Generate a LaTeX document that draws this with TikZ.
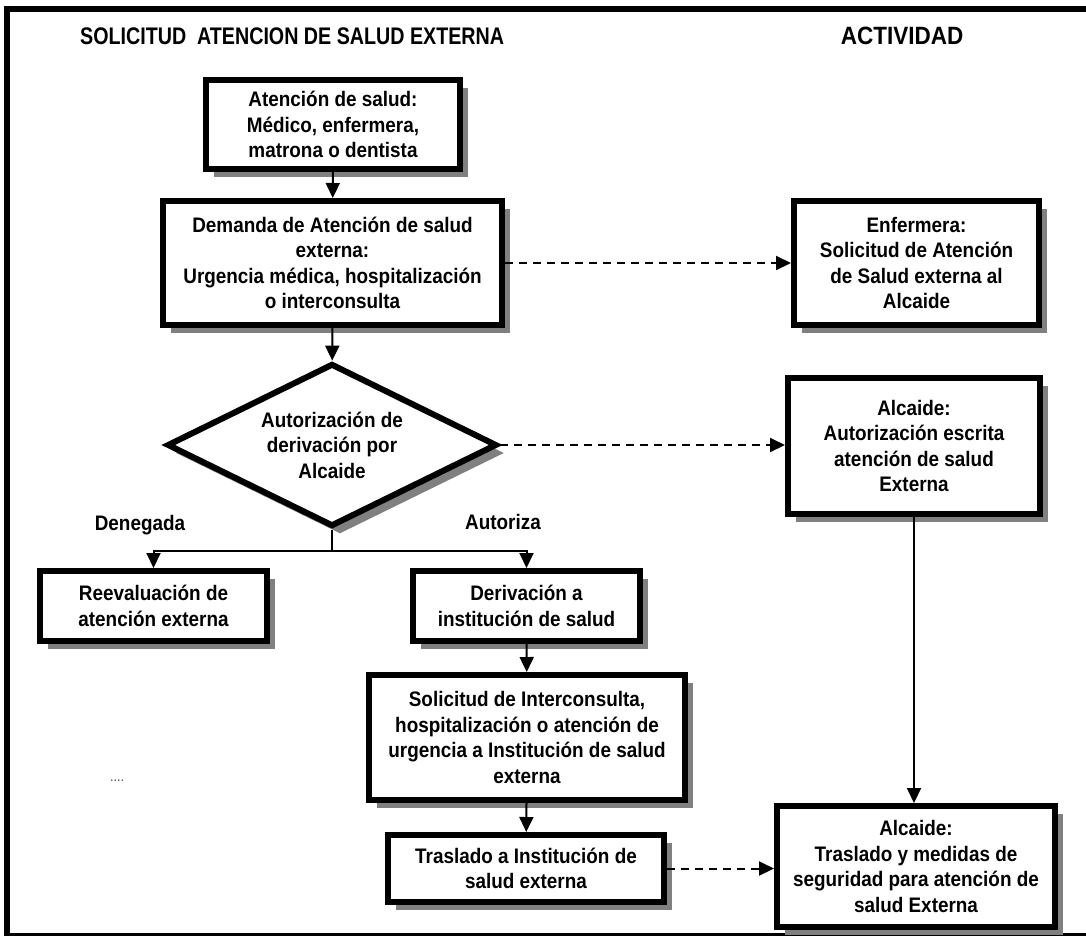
\documentclass[tikz,border=0pt]{standalone}
\usepackage{fontspec}
\setmainfont{Liberation Sans}[FakeStretch=0.9]
\newfontfamily\narrowFamily{Liberation Sans}[FakeStretch=0.82]
\usetikzlibrary{shapes.geometric,arrows.meta,shadows}
\definecolor{flowShadow}{gray}{0.5}
\newcommand{\flowFont}{\bfseries\fontsize{21}{25.5}\selectfont}
\newcommand{\headFont}{\narrowFamily\bfseries\fontsize{24}{28}\selectfont}

\begin{document}
\begin{tikzpicture}[x=1pt, y=-1pt,
    box/.style={draw, line width=6pt, fill=white, align=center, inner sep=0pt, font=\flowFont,
        drop shadow={shadow xshift=8pt, shadow yshift=-8pt, fill=flowShadow, opacity=1}},
    decision/.style={box, diamond, shape aspect=2},
    head/.style={font=\headFont, inner sep=0pt},
    lbl/.style={font=\flowFont, inner sep=0pt},
    arr/.style={-{Triangle[length=15pt,width=14pt]}, line width=2pt},
    darr/.style={arr, dash pattern=on 8pt off 6pt}
]
\useasboundingbox (0,0) rectangle (1086,937);

% frame
\draw[line width=6pt] (4,9) -- (1086,9);
\draw[line width=6pt] (7,6) -- (7,936);
\draw[line width=3pt] (4,934) -- (1086,934);

% headings
\node[head, anchor=west] (title) at (80,36) {SOLICITUD\ \ ATENCION DE SALUD EXTERNA};
\node[head, font=\bfseries\fontsize{25}{28}\selectfont] (activ) at (902,36) {ACTIVIDAD};

% left column
\node[box, minimum width=254, minimum height=89] (care) at (333,124.5) {Atención de salud:\\Médico, enfermera,\\matrona o dentista};
\node[box, minimum width=339, minimum height=124] (demand) at (332.5,263) {Demanda de Atención de salud\\externa:\\Urgencia médica, hospitalización\\o interconsulta};
\node[decision, minimum width=330, minimum height=163] (auth) at (332,445) {Autorización de\\derivación por\\Alcaide};
\coordinate (split) at (332,551);
\node[lbl] (denied) at (140,525) {Denegada};
\node[lbl] (granted) at (503,522) {Autoriza};
\node[box, minimum width=227, minimum height=70] (reeval) at (153.5,606) {Reevaluación de\\atención externa};
\node[box, minimum width=227, minimum height=70] (deriv) at (526.5,606) {Derivación a\\institución de salud};
\node[box, minimum width=316, minimum height=125] (request) at (527,737.5) {Solicitud de Interconsulta,\\hospitalización o atención de\\urgencia a Institución de salud\\externa};
\node[box, minimum width=276, minimum height=67] (transfer) at (526,868.5) {Traslado a Institución de\\salud externa};
\node[font=\fontsize{14}{16}\selectfont, text=black!75] (dots) at (117,781) {....};

% right column
\node[box, minimum width=245, minimum height=124] (nurse) at (916.5,263) {Enfermera:\\Solicitud de Atención\\de Salud externa al\\Alcaide};
\node[box, minimum width=252, minimum height=136] (wardenA) at (914,446) {Alcaide:\\Autorización escrita\\atención de salud\\Externa};
\node[box, minimum width=278, minimum height=121] (wardenB) at (916,866.5) {Alcaide:\\Traslado y medidas de\\seguridad para atención de\\salud Externa};

% connectors
\draw[arr] (care) -- (demand);
\draw[arr] (demand) -- (auth);
\draw[line width=2pt] (auth.south) -- (split);
\draw[arr] (split) -| (reeval.north);
\draw[arr] (split) -| (deriv.north);
\draw[arr] (deriv) -- (request);
\draw[arr] (request) -- (transfer);
\draw[darr] (demand.east) -- (nurse.west |- demand.east);
\draw[darr] (auth.east) -- (wardenA.west |- auth.east);
\draw[darr] (transfer.east) -- (wardenB.west |- transfer.east);
\draw[arr] (wardenA.south) -- (wardenA.south |- wardenB.north);
\end{tikzpicture}
\end{document}
